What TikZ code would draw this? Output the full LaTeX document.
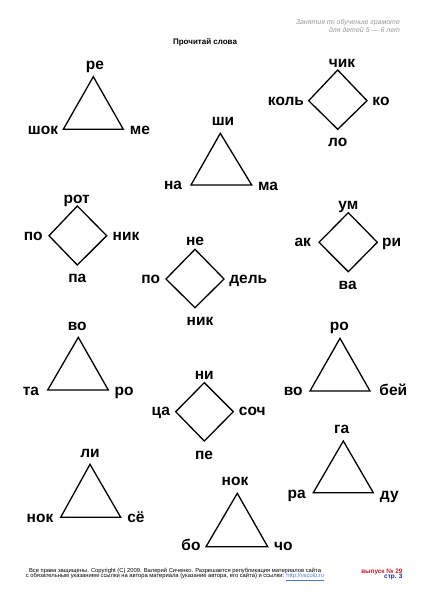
\documentclass[tikz,border=0pt]{standalone}
\usepackage{fontspec}
\setmainfont{Liberation Sans}
\definecolor{hdrgrey}{RGB}{150,150,150}
\definecolor{issuered}{RGB}{205,25,45}
\definecolor{pageblue}{RGB}{30,40,150}
\definecolor{linkblue}{RGB}{80,120,215}
\tikzset{
  syl/.style={font=\bfseries\fontsize{15.5}{15.5}\selectfont, inner sep=0pt, text height=8pt, text depth=0pt},
  fig/.style={line width=1.3pt, line join=miter},
}
\begin{document}
\begin{tikzpicture}[x=1pt,y=-1pt]
        \useasboundingbox (0,0) rectangle (423,600);
        \node[hdrgrey, anchor=east, align=right, font=\itshape\fontsize{7}{8.3}\selectfont] (hdr) at (403.5,26) {Занятия по обучению грамоте\\для детей 5 — 6 лет};
        \node[font=\bfseries\fontsize{8}{8}\selectfont] (title) at (205,42.7) {Прочитай слова};

        \coordinate (t1a) at (93.3,76.7); \coordinate (t1l) at (63.3,129.3); \coordinate (t1r) at (123.3,129.3);
        \draw[fig] (t1a) -- (t1l) -- (t1r) -- cycle;
        \node[syl] (re) at (95,65) {ре};
        \node[syl] (shok) at (43,130) {шок};
        \node[syl] (me) at (140,130) {ме};

        \coordinate (d1t) at (337.7,70); \coordinate (d1l) at (308.7,100.7); \coordinate (d1b) at (337.7,129.3); \coordinate (d1r) at (367,100.7);
        \draw[fig] (d1t) -- (d1l) -- (d1b) -- (d1r) -- cycle;
        \node[syl] (chik) at (342,63.3) {чик};
        \node[syl] (kol) at (286,101) {коль};
        \node[syl] (ko) at (381,101) {ко};
        \node[syl] (lo) at (337.7,142) {ло};

        \coordinate (t2a) at (220.3,133.3); \coordinate (t2l) at (191,185); \coordinate (t2r) at (251.7,185);
        \draw[fig] (t2a) -- (t2l) -- (t2r) -- cycle;
        \node[syl] (shi) at (223,121) {ши};
        \node[syl] (na) at (173,185.7) {на};
        \node[syl] (ma) at (268,186) {ма};

        \coordinate (d2t) at (77.3,206); \coordinate (d2l) at (49,235.7); \coordinate (d2b) at (77.3,265); \coordinate (d2r) at (106.7,235.7);
        \draw[fig] (d2t) -- (d2l) -- (d2b) -- (d2r) -- cycle;
        \node[syl] (rot) at (76.7,199.3) {рот};
        \node[syl] (po1) at (33.3,236) {по};
        \node[syl] (nik1) at (126,236) {ник};
        \node[syl] (pa) at (77.3,278.3) {па};

        \coordinate (d3t) at (195,249.3); \coordinate (d3l) at (166,279); \coordinate (d3b) at (195,307.7); \coordinate (d3r) at (224,279);
        \draw[fig] (d3t) -- (d3l) -- (d3b) -- (d3r) -- cycle;
        \node[syl] (ne) at (195,241.7) {не};
        \node[syl] (po2) at (150.7,279.3) {по};
        \node[syl] (del) at (248.3,279.3) {дель};
        \node[syl] (nik2) at (200,321.7) {ник};

        \coordinate (d4t) at (348.3,212.7); \coordinate (d4l) at (319,242.3); \coordinate (d4b) at (348.3,271.7); \coordinate (d4r) at (377.3,242.3);
        \draw[fig] (d4t) -- (d4l) -- (d4b) -- (d4r) -- cycle;
        \node[syl] (um) at (348.3,205) {ум};
        \node[syl] (ak) at (302.7,242.7) {ак};
        \node[syl] (ri) at (391.7,242.7) {ри};
        \node[syl] (va) at (347.7,285) {ва};

        \coordinate (t3a) at (78.3,337.3); \coordinate (t3l) at (47.7,390); \coordinate (t3r) at (108.3,390);
        \draw[fig] (t3a) -- (t3l) -- (t3r) -- cycle;
        \node[syl] (vo1) at (77.3,326) {во};
        \node[syl] (ta) at (31,391) {та};
        \node[syl] (ro1) at (124,391) {ро};

        \coordinate (t4a) at (340,338.3); \coordinate (t4l) at (310,391); \coordinate (t4r) at (370,391);
        \draw[fig] (t4a) -- (t4l) -- (t4r) -- cycle;
        \node[syl] (ro2) at (339.3,326.7) {ро};
        \node[syl] (vo2) at (293.3,391.7) {во};
        \node[syl] (bei) at (393.3,391.7) {бей};

        \coordinate (d5t) at (204.3,382.7); \coordinate (d5l) at (175.7,411.7); \coordinate (d5b) at (204.3,441); \coordinate (d5r) at (233.3,411.7);
        \draw[fig] (d5t) -- (d5l) -- (d5b) -- (d5r) -- cycle;
        \node[syl] (ni) at (204.3,375) {ни};
        \node[syl] (tsa) at (160.7,411.7) {ца};
        \node[syl] (soch) at (252.3,411.7) {соч};
        \node[syl] (pe) at (204,455) {пе};

        \coordinate (t5a) at (90,464.3); \coordinate (t5l) at (60.7,517.3); \coordinate (t5r) at (120.7,517.3);
        \draw[fig] (t5a) -- (t5l) -- (t5r) -- cycle;
        \node[syl] (li) at (90,453.3) {ли};
        \node[syl] (nok1) at (40,518.3) {нок};
        \node[syl] (syo) at (136,518.3) {сё};

        \coordinate (t6a) at (343.3,441); \coordinate (t6l) at (313.3,492.7); \coordinate (t6r) at (373.3,492.7);
        \draw[fig] (t6a) -- (t6l) -- (t6r) -- cycle;
        \node[syl] (ga) at (341.7,429) {га};
        \node[syl] (ra) at (296.7,494) {ра};
        \node[syl] (du) at (389.3,495) {ду};

        \coordinate (t7a) at (237.3,493.3); \coordinate (t7l) at (206,546.7); \coordinate (t7r) at (267.7,546.7);
        \draw[fig] (t7a) -- (t7l) -- (t7r) -- cycle;
        \node[syl] (nok2) at (235,481.7) {нок};
        \node[syl] (bo) at (191,546.7) {бо};
        \node[syl] (cho) at (283.3,546.7) {чо};

        \node[align=center, font=\fontsize{5.8}{5.7}\selectfont] (foot) at (175,574.5) {Все права защищены. Copyright (C) 2009. Валерий Сиченко. Разрешается републикация материалов сайта\\с обязательным указанием ссылки на автора материала (указание автора, его сайта) и ссылки: \textcolor{linkblue}{\underline{http://vscolu.ru}}};
        \node[issuered, anchor=base east, inner sep=0pt, font=\bfseries\fontsize{6.4}{6.4}\selectfont] (issue) at (402.7,573.3) {выпуск № 29};
        \node[pageblue, anchor=base east, inner sep=0pt, font=\bfseries\fontsize{6.4}{6.4}\selectfont] (page) at (402.7,578.6) {стр. 3};
        \end{tikzpicture}
\end{document}
